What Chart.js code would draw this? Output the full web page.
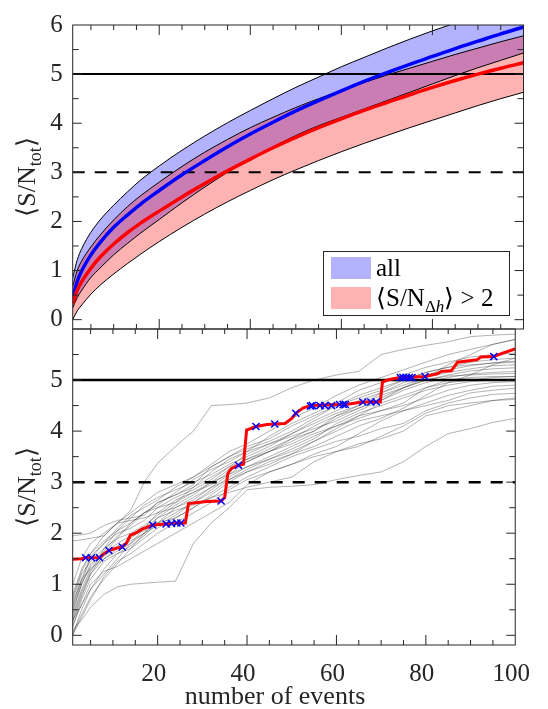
<!DOCTYPE html>
<html><head><meta charset="utf-8">
<script src="https://cdn.jsdelivr.net/npm/chart.js@4.4.1/dist/chart.umd.min.js"></script>
<style>
html,body{margin:0;padding:0;background:#fff;}
#wrap{position:relative;width:548px;height:709px;}
canvas{position:absolute;left:0;top:0;}
</style></head><body>
<div id="wrap"><canvas id="cTop" width="548" height="709"></canvas><canvas id="cBot" width="548" height="709"></canvas></div>
<script>
// ---------- data: top panel (bands) ----------
const bandX    = [1,2,3,5,7,10,13,16,20,25,30,35,40,45,50,55,60,65,70,75,80,85,90,95,100];
const allUpper = [0.85,1.22,1.45,1.78,2.03,2.33,2.6,2.85,3.13,3.45,3.74,4.01,4.26,4.5,4.73,4.94,5.15,5.34,5.53,5.71,5.88,6.04,6.2,6.36,6.51];
const allMean  = [0.45,0.78,1.0,1.32,1.57,1.88,2.13,2.36,2.63,2.95,3.24,3.52,3.78,4.02,4.25,4.46,4.66,4.85,5.03,5.2,5.36,5.52,5.67,5.82,5.96];
const allLower = [0.24,0.45,0.6,0.86,1.05,1.32,1.55,1.77,2.04,2.38,2.7,3.0,3.27,3.52,3.75,3.95,4.12,4.29,4.46,4.63,4.8,4.97,5.13,5.28,5.43];
const selUpper = [0.68,1.0,1.2,1.48,1.72,2.03,2.3,2.53,2.8,3.12,3.41,3.67,3.91,4.12,4.32,4.5,4.67,4.83,4.98,5.12,5.26,5.4,5.53,5.66,5.78];
const selMean  = [0.33,0.6,0.78,1.05,1.27,1.54,1.77,1.97,2.21,2.5,2.77,3.03,3.27,3.5,3.71,3.91,4.09,4.26,4.42,4.58,4.73,4.87,5.0,5.12,5.23];
const selLower = [0.0,0.18,0.3,0.52,0.7,0.93,1.14,1.34,1.59,1.88,2.15,2.4,2.63,2.85,3.05,3.24,3.42,3.59,3.75,3.91,4.06,4.21,4.36,4.5,4.63];

// ---------- data: reference lines ----------
const hlineX  = [1, 100];
const hline5Y = [5, 5];
const hline3Y = [3, 3];

// ---------- data: bottom panel (realisations) ----------
const grayX = [1,3,5,8,11,14,17,20,24,28,32,36,40,45,50,55,60,65,70,75,80,85,90,95,100];
const g1  = [1.0,1.5,1.8,2.0,2.2,2.45,3.0,3.37,3.7,4.0,4.5,4.52,4.55,4.65,4.85,5.0,5.1,5.17,5.5,5.6,5.68,5.75,5.85,5.88,5.9];
const g2  = [1.95,1.97,2.0,2.15,2.25,2.3,2.35,2.6,2.75,2.9,3.1,3.3,3.45,3.6,3.85,4.0,4.3,4.45,4.6,4.85,5.05,5.3,5.5,5.7,5.79];
const g3  = [1.85,1.87,1.9,1.95,2.2,2.25,2.3,2.4,2.5,2.65,2.9,3.05,3.2,3.4,3.55,3.7,3.9,4.1,4.25,4.45,4.7,4.95,5.1,5.3,5.43];
const g4  = [0.1,0.3,0.55,0.8,0.95,1.0,1.02,1.04,1.06,1.8,2.2,2.5,2.85,2.9,2.92,2.95,3.05,3.13,3.2,3.4,3.7,3.95,4.05,4.17,4.25];
const g5  = [0.0,0.5,0.9,1.3,1.6,1.7,1.9,2.1,2.3,2.5,2.7,2.8,2.9,3.0,3.1,3.4,3.6,3.75,3.85,4.0,4.3,4.4,4.5,4.6,4.65];
const g6  = [0.3,0.8,1.2,1.5,1.7,1.9,2.1,2.3,2.45,2.55,2.7,2.9,3.1,3.3,3.5,3.65,3.8,3.9,4.05,4.15,4.4,4.55,4.65,4.72,4.74];
const g7  = [0.5,1.0,1.4,1.6,1.8,1.95,2.05,2.2,2.3,2.5,2.75,3.0,3.2,3.35,3.55,3.8,4.0,4.2,4.3,4.4,4.5,4.6,4.75,4.8,4.84];
const g8  = [0.2,0.6,1.0,1.25,1.35,1.5,1.65,1.8,2.0,2.2,2.4,2.6,2.95,3.2,3.35,3.55,3.7,3.95,4.2,4.4,4.55,4.7,4.8,4.88,4.9];
const g9  = [0.7,1.2,1.45,1.7,1.9,2.2,2.4,2.5,2.6,2.8,3.0,3.15,3.3,3.5,3.7,3.9,4.1,4.3,4.4,4.5,4.65,4.8,4.9,4.95,4.97];
const g10 = [0.4,0.9,1.3,1.55,1.75,1.85,2.0,2.15,2.35,2.6,2.85,3.1,3.3,3.45,3.6,3.8,4.05,4.3,4.55,4.7,4.85,4.95,5.0,5.05,5.07];
const g11 = [0.6,1.1,1.55,1.8,2.0,2.1,2.25,2.5,2.7,2.85,3.05,3.3,3.55,3.75,3.9,4.05,4.2,4.4,4.6,4.8,4.95,5.05,5.12,5.15,5.17];
const g12 = [0.15,0.7,1.1,1.45,1.6,1.75,1.95,2.2,2.5,2.7,2.9,3.15,3.4,3.6,3.8,4.0,4.25,4.45,4.65,4.85,5.0,5.1,5.18,5.22,5.24];
const g13 = [0.8,1.3,1.6,1.85,2.05,2.3,2.55,2.7,2.85,3.0,3.15,3.35,3.5,3.7,3.95,4.2,4.4,4.6,4.75,4.9,5.05,5.15,5.22,5.28,5.3];
const g14 = [0.25,0.75,1.2,1.6,1.9,2.0,2.15,2.35,2.6,2.9,3.2,3.45,3.6,3.75,3.95,4.15,4.35,4.5,4.75,4.95,5.1,5.2,5.28,5.34,5.37];
const g15 = [0.45,1.0,1.35,1.65,1.95,2.15,2.4,2.6,2.75,2.95,3.3,3.5,3.7,3.85,4.1,4.3,4.5,4.65,4.8,5.0,5.15,5.25,5.35,5.4,5.43];
const g16 = [0.35,0.85,1.25,1.7,2.05,2.2,2.4,2.55,2.8,3.05,3.25,3.4,3.6,3.9,4.15,4.35,4.55,4.8,4.95,5.1,5.25,5.35,5.45,5.5,5.53];
const g17 = [0.05,0.4,0.75,1.1,1.4,1.7,2.0,2.3,2.55,2.75,3.0,3.25,3.4,3.6,3.75,3.95,4.1,4.25,4.4,4.55,4.85,5.0,5.05,5.07,5.07];
const g18 = [0.55,1.05,1.5,1.8,2.1,2.35,2.5,2.65,2.9,3.1,3.35,3.6,3.75,4.0,4.25,4.45,4.7,4.9,5.05,5.2,5.35,5.5,5.6,5.7,5.8];
const g19 = [0.0,0.35,0.7,1.15,1.45,1.6,1.8,2.0,2.2,2.4,2.6,2.85,3.05,3.2,3.35,3.5,3.6,3.7,3.9,4.1,4.35,4.5,4.55,4.6,4.62];
const g20 = [0.65,1.1,1.3,1.5,1.65,1.8,2.1,2.4,2.65,2.8,2.95,3.2,3.45,3.65,3.85,4.1,4.3,4.5,4.7,4.85,5.0,5.08,5.1,5.12,5.13];
const g21 = [0.3,0.6,0.9,1.2,1.5,1.8,2.0,2.2,2.4,2.6,2.8,3.05,3.25,3.45,3.65,3.85,4.15,4.35,4.5,4.65,4.8,4.9,4.97,5.0,5.02];
const g22 = [0.75,1.25,1.6,1.95,2.2,2.4,2.6,2.8,2.95,3.1,3.3,3.5,3.65,3.8,4.0,4.25,4.5,4.7,4.85,5.0,5.15,5.25,5.3,5.33,5.35];
const grayYs = [g1,g2,g3,g4,g5,g6,g7,g8,g9,g10,g11,g12,g13,g14,g15,g16,g17,g18,g19,g20,g21,g22];

const redX = [1,3,3.9,5.2,7.0,8,9.1,10.5,12.1,13,13.9,15,16.5,18.9,21.9,23.1,25,26.2,26.9,31,34.2,35,35.7,36.5,38.1,39.2,39.9,42,44.5,46.2,48.5,50,50.9,52.5,54.2,60.7,62,65.9,69.1,69.8,70.3,71.4,73,74.3,79.8,82.5,83.5,85.7,87.1,89.7,91.5,92.3,95.2,97,100];
const redY = [1.49,1.5,1.52,1.52,1.52,1.6,1.66,1.7,1.73,1.8,1.96,2.0,2.08,2.16,2.18,2.19,2.2,2.2,2.58,2.62,2.63,2.7,3.17,3.27,3.33,3.35,4.02,4.09,4.13,4.14,4.15,4.25,4.35,4.45,4.5,4.52,4.52,4.57,4.57,4.57,4.96,5.0,5.03,5.05,5.07,5.12,5.17,5.18,5.35,5.38,5.4,5.45,5.46,5.52,5.61];
const markX = [3.9,5.2,7.0,9.1,12.1,18.9,21.9,23.1,24.3,25.2,34.2,38.1,42,46.2,50.9,54.2,54.6,56.3,57.4,58.9,60.7,61.5,62,65.9,67.7,68.9,74.3,74.9,75.6,76.3,76.9,79.8,95.2];
const markY = [1.52,1.52,1.52,1.66,1.73,2.16,2.18,2.19,2.2,2.2,2.63,3.33,4.09,4.14,4.35,4.49,4.5,4.5,4.5,4.5,4.52,4.52,4.52,4.57,4.57,4.57,5.05,5.05,5.05,5.05,5.05,5.07,5.46];

// ---------- ticks ----------
const topYLabels = [0,1,2,3,4,5,6];
const botYLabels = [0,1,2,3,4,5];
const xLabels    = [20,40,60,80,100];
const xMinorTicks = [5,10,15,20,25,30,35,40,45,50,55,60,65,70,75,80,85,90,95];
const yMinorTicks = [0,0.5,1,1.5,2,2.5,3,3.5,4,4.5,5,5.5];

const SERIF = '"Liberation Serif"';
const INK = '#262626';
const pts = (xs, ys) => xs.map((x, i) => ({x: x, y: ys[i]}));

const framePlugin = {
  id: 'frame',
  afterDatasetsDraw(chart) {
    const ctx = chart.ctx, a = chart.chartArea, xs = chart.scales.x, ys = chart.scales.y;
    ctx.save();
    ctx.strokeStyle = INK; ctx.lineWidth = 1;
    ctx.strokeRect(a.left, a.top, a.right - a.left, a.bottom - a.top);
    ctx.beginPath();
    xMinorTicks.forEach(v => {
      const p = xs.getPixelForValue(v);
      const L = (v % 20 === 0) ? 10 : 5;
      ctx.moveTo(p, a.bottom); ctx.lineTo(p, a.bottom - L);
      ctx.moveTo(p, a.top); ctx.lineTo(p, a.top + L);
    });
    yMinorTicks.forEach(v => {
      const p = ys.getPixelForValue(v);
      const L = (v % 1 === 0) ? 9 : 6;
      ctx.moveTo(a.left, p); ctx.lineTo(a.left + L, p);
      ctx.moveTo(a.right, p); ctx.lineTo(a.right - L, p);
    });
    ctx.stroke();
    ctx.restore();
  }
};

function drawRich(ctx, parts, x0, y0) {
  let x = x0;
  parts.forEach(p => { ctx.font = p[1]; ctx.fillText(p[0], x, y0 + p[2]); x += ctx.measureText(p[0]).width; });
  return x - x0;
}
function richWidth(ctx, parts) {
  let w = 0; parts.forEach(p => { ctx.font = p[1]; w += ctx.measureText(p[0]).width; }); return w;
}
function drawYTitle(chart, cx) {
  const ctx = chart.ctx, a = chart.chartArea;
  const cy = (a.top + a.bottom) / 2;
  const parts = [['\u27E8S/N', '26px ' + SERIF, 0], ['tot', '18px ' + SERIF, 6], ['\u27E9', '26px ' + SERIF, 0]];
  ctx.save();
  ctx.fillStyle = INK; ctx.textBaseline = 'alphabetic'; ctx.textAlign = 'left';
  ctx.translate(cx, cy); ctx.rotate(-Math.PI / 2);
  const w = richWidth(ctx, parts);
  drawRich(ctx, parts, -w / 2, 0);
  ctx.restore();
}

const topDecor = {
  id: 'topDecor',
  afterDraw(chart) {
    const ctx = chart.ctx;
    drawYTitle(chart, 35);
    ctx.save();
    const L = 323, T = 251, R = 510, B = 316;
    ctx.fillStyle = '#fff'; ctx.fillRect(L, T, R - L, B - T);
    ctx.strokeStyle = INK; ctx.lineWidth = 1; ctx.strokeRect(L + 0.5, T + 0.5, R - L - 1, B - T - 1);
    ctx.fillStyle = 'rgba(0,0,255,0.3)'; ctx.fillRect(331, 257, 40, 22);
    ctx.fillStyle = 'rgba(255,0,0,0.3)'; ctx.fillRect(331, 287, 40, 22);
    ctx.fillStyle = '#000'; ctx.textBaseline = 'alphabetic'; ctx.textAlign = 'left';
    ctx.font = '25px ' + SERIF; ctx.fillText('all', 376, 276);
    drawRich(ctx, [['\u27E8S/N', '25px ' + SERIF, 0], ['\u0394', '17px ' + SERIF, 6], ['h', 'italic 17px ' + SERIF, 6], ['\u27E9 > 2', '25px ' + SERIF, 0]], 376, 306);
    ctx.restore();
  }
};
const botDecor = {
  id: 'botDecor',
  afterDraw(chart) {
    const ctx = chart.ctx;
    drawYTitle(chart, 35);
    ctx.save();
    ctx.fillStyle = INK; ctx.font = '26px ' + SERIF; ctx.textAlign = 'center'; ctx.textBaseline = 'middle';
    ctx.fillText('number of events', 275, 697);
    ctx.restore();
  }
};

function yScale(labels) {
  return {
    type: 'linear', min: -0.19, max: 6,
    afterBuildTicks: s => { s.ticks = labels.map(v => ({value: v})); },
    afterFit: s => { s.width = 72.7; },
    grid: {display: false, drawTicks: false}, border: {display: false},
    ticks: {padding: 10, color: INK, font: {family: SERIF, size: 25}, autoSkip: false}
  };
}
const common = {
  responsive: false, animation: false, events: [],
  plugins: {legend: {display: false}, tooltip: {enabled: false}, filler: {drawTime: 'beforeDatasetsDraw'}},
  elements: {point: {radius: 0}, line: {tension: 0}}
};

const line = (data, color, width, order, extra) => Object.assign({data: data, borderColor: color, borderWidth: width, pointRadius: 0, fill: false, order: order}, extra || {});

new Chart(document.getElementById('cTop'), {
  type: 'line',
  data: {datasets: [
    line(pts(bandX, allUpper), '#000', 1, 10, {fill: '+1', backgroundColor: 'rgba(0,0,255,0.3)', cubicInterpolationMode: 'monotone'}),
    line(pts(bandX, allLower), '#000', 1, 9, {cubicInterpolationMode: 'monotone'}),
    line(pts(bandX, selUpper), '#000', 1, 8, {fill: '+1', backgroundColor: 'rgba(255,0,0,0.3)', cubicInterpolationMode: 'monotone'}),
    line(pts(bandX, selLower), '#000', 1, 7, {cubicInterpolationMode: 'monotone'}),
    line(pts(hlineX, hline5Y), '#000', 2, 5),
    line(pts(hlineX, hline3Y), '#000', 2, 5, {borderDash: [12, 10]}),
    line(pts(bandX, allMean), '#0000ff', 3.5, 2, {cubicInterpolationMode: 'monotone'}),
    line(pts(bandX, selMean), '#ff0000', 3.5, 1, {cubicInterpolationMode: 'monotone'})
  ]},
  options: Object.assign({}, common, {
    layout: {padding: {left: 0, right: 24.5, top: 12.5, bottom: 380}},
    scales: {
      x: {type: 'linear', min: 1, max: 100, display: false},
      y: yScale(topYLabels)
    }
  }),
  plugins: [framePlugin, topDecor]
});

const botSets = grayYs.map(ys => line(pts(grayX, ys), 'rgba(0,0,0,0.3)', 1, 10));
botSets.push(line(pts(hlineX, hline5Y), '#000', 2.5, 5));
botSets.push(line(pts(hlineX, hline3Y), '#000', 2.5, 5, {borderDash: [12, 10]}));
botSets.push(line(pts(redX, redY), '#ff0000', 3, 2));
botSets.push({data: pts(markX, markY), showLine: false, pointStyle: 'crossRot', pointRadius: 5, pointBorderColor: '#0000ff', pointBorderWidth: 1.5, borderColor: '#0000ff', order: 1});

new Chart(document.getElementById('cBot'), {
  type: 'line',
  data: {datasets: botSets},
  options: Object.assign({}, common, {
    layout: {padding: {left: 0, right: 24.5, top: 329, bottom: 0}},
    scales: {
      x: {type: 'linear', min: 1, max: 100,
          afterBuildTicks: s => { s.ticks = xLabels.map(v => ({value: v})); },
          afterFit: s => { s.height = 64; },
          grid: {display: false, drawTicks: false}, border: {display: false},
          ticks: {padding: 14, labelOffset: -4, color: INK, font: {family: SERIF, size: 25}, autoSkip: false, maxRotation: 0}},
      y: yScale(botYLabels)
    }
  }),
  plugins: [framePlugin, botDecor]
});
</script>
</body></html>
